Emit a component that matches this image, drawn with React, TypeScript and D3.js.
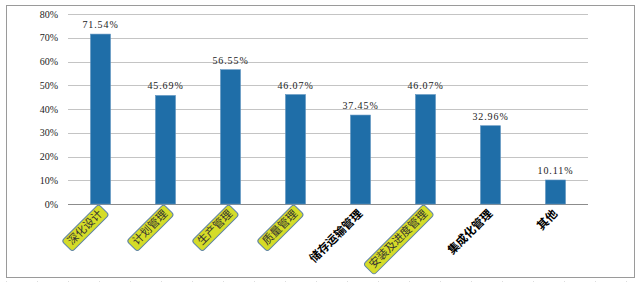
import React from "react";
import * as d3 from "d3";

const categories = ["深化设计", "计划管理", "生产管理", "质量管理", "储存运输管理", "安装及进度管理", "集成化管理", "其他"];
const values = [71.54, 45.69, 56.55, 46.07, 37.45, 46.07, 32.96, 10.11];
const highlighted = [true, true, true, true, false, true, false, false];
const yTicks = [0, 10, 20, 30, 40, 50, 60, 70, 80];

export default function App() {
  const W = 644, H = 283;
  const left = 68, right = 588, top = 14, bottom = 204;
  const x = d3.scaleBand<string>().domain(categories).range([left, right]).paddingInner(0).paddingOuter(0);
  const y = d3.scaleLinear().domain([0, 80]).range([bottom, top]);
  const bw = 20;
  return (
    <svg width={W} height={H} style={{ position: "absolute", left: 0, top: 0 }}>
      <rect x={0} y={0} width={W} height={H} fill="#fff" />
      <rect x={6.5} y={5.5} width={628} height={272} fill="#fff" stroke="#9a9a9a" strokeWidth={1} />
      <line x1={6} x2={640} y1={281.5} y2={281.5} stroke="#dedede" strokeDasharray="1 30" />
      {yTicks.map((t) => (
        <g key={t}>
          <line x1={left} x2={right} y1={Math.round(y(t)) + 0.5} y2={Math.round(y(t)) + 0.5} stroke={t === 0 ? "#8c8c8c" : "#c4c4c4"} strokeWidth={1} />
          <text x={58} y={y(t) + 3.5} textAnchor="end" fontFamily="Liberation Serif" fontSize={10} fill="#222">{t}%</text>
        </g>
      ))}
      {categories.map((c, i) => {
        const cx = (x(c) as number) + x.bandwidth() / 2;
        const v = values[i];
        return (
          <g key={c}>
            <rect x={cx - bw / 2} y={y(v)} width={bw} height={bottom - y(v)} fill="#1f6ea8" stroke="#5e93c0" strokeWidth={0.6} />
            <text x={cx} y={y(v) - 6} textAnchor="middle" fontFamily="Liberation Serif" fontSize={10} letterSpacing={0.9} fill="#222">{v.toFixed(2)}%</text>
          </g>
        );
      })}
      {categories.map((c, i) => {
        const cx = (x(c) as number) + x.bandwidth() / 2;
        const fs = highlighted[i] ? 11 : 11.5;
        const len = c.length * fs;
        const ex = cx + 4, ey = 213;
        return (
          <g key={"l" + c} transform={`translate(${ex},${ey}) rotate(-45)`}>
            {highlighted[i] && (
              <rect x={-len - 6} y={-fs + 0.5} width={len + 8} height={fs + 4} rx={3} ry={3} fill="#d5dc28" stroke="#5f84a6" strokeWidth={1} />
            )}
            <text x={-2} y={0} textAnchor="end" fontFamily="Noto Sans CJK SC" fontSize={fs} fontWeight={highlighted[i] ? 400 : 700} fill={highlighted[i] ? "#333" : "#000"}>{c}</text>
          </g>
        );
      })}
    </svg>
  );
}
